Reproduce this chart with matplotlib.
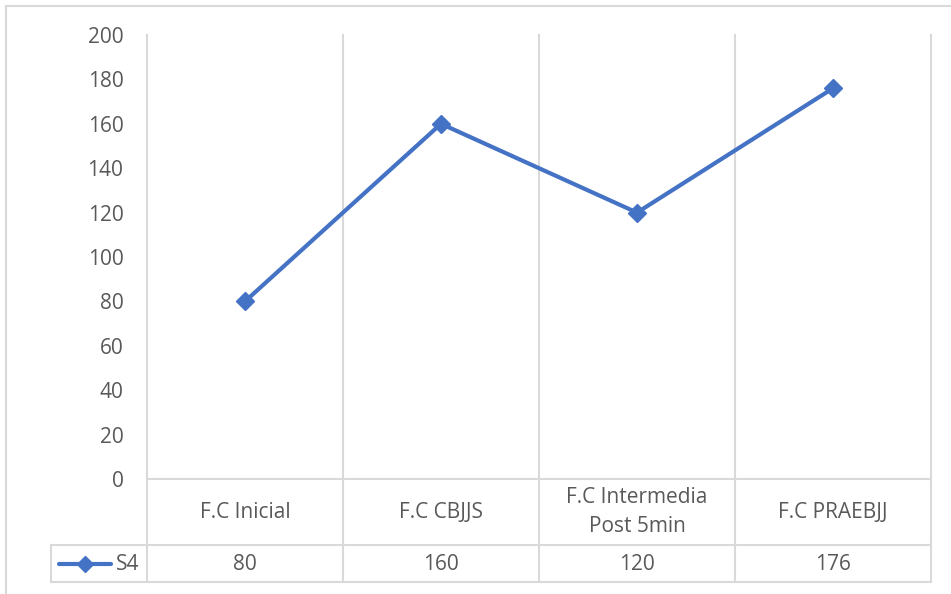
import matplotlib.pyplot as plt
import matplotlib.transforms as mtransforms
from matplotlib.lines import Line2D

plt.rcParams['font.family'] = ['Open Sans', 'DejaVu Sans']

categories = ['F.C Inicial', 'F.C CBJJS', 'F.C Intermedia\nPost 5min', 'F.C PRAEBJJ']
series_name = 'S4'
values = [80, 160, 120, 176]

W, H = 951, 594
line_color = '#4472C4'
grid_color = '#D9D9D9'
text_color = '#595959'
fs = 15

fig = plt.figure(figsize=(W / 100, H / 100), dpi=100)


def fx(px):
    return px / W


def fy(py):
    return 1 - py / H


ax = fig.add_axes([fx(147), fy(479), fx(931) - fx(147), fy(35) - fy(479)])
x = list(range(len(values)))
ax.plot(x, values, color=line_color, lw=3, marker='D', markersize=9.5,
        solid_capstyle='round', zorder=5)

ax.set_xlim(-0.5, len(values) - 0.5)
ax.set_ylim(0, 200)
ax.set_yticks(range(0, 201, 20))
ax.tick_params(axis='y', length=0, pad=17, labelsize=fs, labelcolor=text_color)
ax.set_xticks([])
for s in ['top', 'left', 'right']:
    ax.spines[s].set_visible(False)
ax.spines['bottom'].set_color(grid_color)
ax.spines['bottom'].set_linewidth(1.5)

# vertical category dividers running down through the data table
trans = mtransforms.blended_transform_factory(ax.transData, fig.transFigure)
for b in [i - 0.5 for i in range(len(values) + 1)]:
    ax.plot([b, b], [fy(35), fy(582)], transform=trans, color=grid_color,
            lw=1.5, clip_on=False, zorder=1)

# category labels and values in the table
for i, (cat, v) in enumerate(zip(categories, values)):
    ax.text(i, fy(512), cat, transform=trans, ha='center', va='center',
            fontsize=fs, color=text_color, linespacing=1.45)
    ax.text(i, fy(564), str(v), transform=trans, ha='center', va='center',
            fontsize=fs, color=text_color)

# table horizontal rules and left edge
for py in [545, 582]:
    fig.add_artist(Line2D([fx(51), fx(931)], [fy(py), fy(py)], color=grid_color, lw=1.5))
fig.add_artist(Line2D([fx(51), fx(51)], [fy(545), fy(582)], color=grid_color, lw=1.5))

# legend key in table
fig.add_artist(Line2D([fx(59), fx(111)], [fy(564), fy(564)], color=line_color, lw=3,
                      solid_capstyle='round'))
fig.add_artist(Line2D([fx(85)], [fy(564)], color=line_color, marker='D', markersize=8.5))
fig.text(fx(139), fy(564), series_name, ha='right', va='center', fontsize=fs,
         color=text_color)

# chart area border (cropped at right and bottom)
fig.add_artist(Line2D([fx(6), 1], [fy(6), fy(6)], color=grid_color, lw=1.5))
fig.add_artist(Line2D([fx(6), fx(6)], [fy(6), 0], color=grid_color, lw=1.5))

fig.savefig('out.png', dpi=100)
